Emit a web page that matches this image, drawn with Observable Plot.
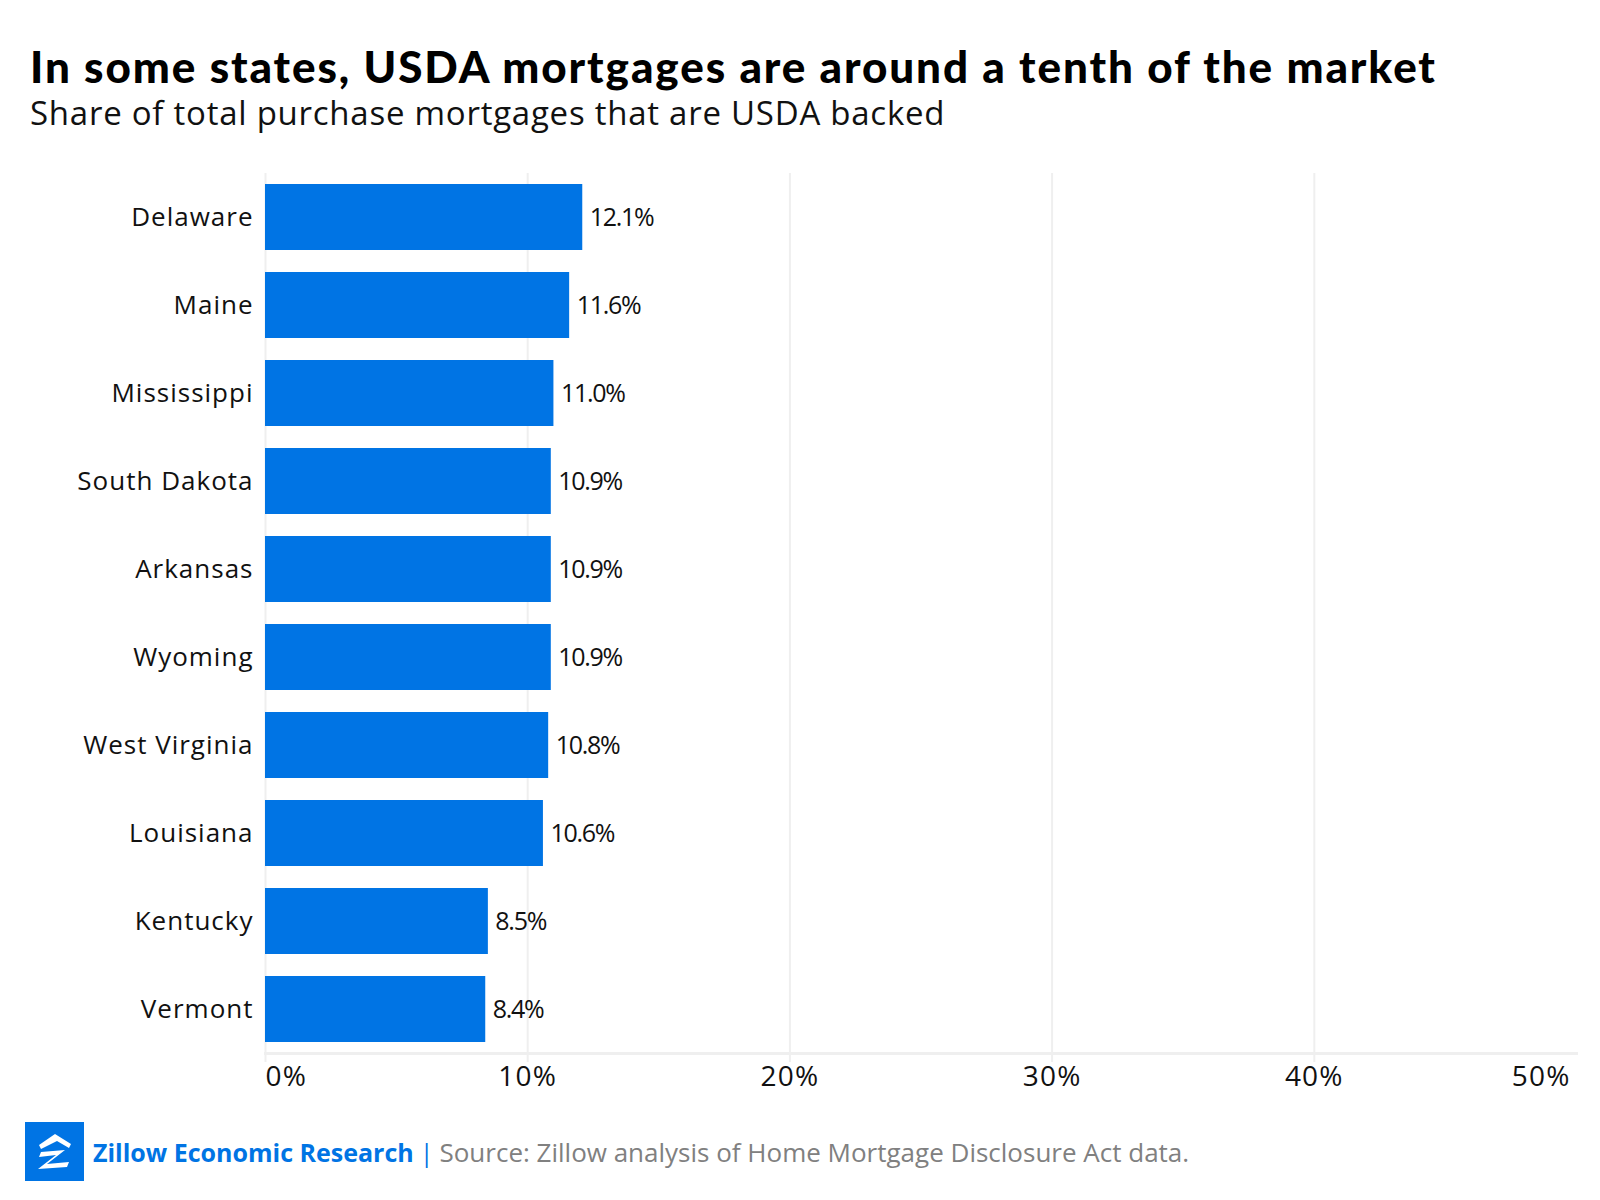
<!DOCTYPE html>
<html>
<head>
<meta charset="utf-8">
<script src="https://cdn.jsdelivr.net/npm/d3@7"></script>
<script src="https://cdn.jsdelivr.net/npm/@observablehq/plot@0.6"></script>
<style>
  html, body { margin: 0; padding: 0; background: #fff; }
  body { width: 1600px; height: 1200px; position: relative; overflow: hidden; font-family: "Open Sans", Lato, sans-serif; }
  #title { position: absolute; left: 30px; top: 40px; font-family: Lato, sans-serif; font-size: 44px; font-weight: 900; color: #000; white-space: nowrap; letter-spacing: 1.9px; }
  #subtitle { position: absolute; left: 30px; top: 90px; font-size: 33px; font-weight: 400; color: #111; white-space: nowrap; letter-spacing: 0.75px; }
  #chart { position: absolute; left: 0; top: 0; }
  #footer { position: absolute; left: 25px; top: 1122px; height: 59px; display: flex; align-items: center; white-space: nowrap; }
  #footer .brand { color: #0074e4; font-weight: 700; font-size: 25px; margin-left: 9px; }
  #footer .sep { color: #0074e4; font-size: 25px; margin: 0 6px; }
  #footer .src { color: #808080; font-size: 26px; }
</style>
</head>
<body>
<div id="chart"></div>
<div id="title">In some states, USDA mortgages are around a tenth of the market</div>
<div id="subtitle">Share of total purchase mortgages that are USDA backed</div>
<div id="footer">
  <svg width="59" height="59" viewBox="0 0 59 59">
    <rect width="59" height="59" fill="#0074e4"/>
    <path d="M30 12 L46 22 L44 26 L32 19 L16 27 L14 23 Z" fill="#fff"/>
    <path d="M16 30 L40 28 L22 42 L44 40 L42 45 L13 47 L31 33 L14 35 Z" fill="#fff"/>
  </svg>
  <span class="brand">Zillow Economic Research</span><span class="sep">|</span><span class="src">Source: Zillow analysis of Home Mortgage Disclosure Act data.</span>
</div>
<script>
const states = ["Delaware", "Maine", "Mississippi", "South Dakota", "Arkansas", "Wyoming", "West Virginia", "Louisiana", "Kentucky", "Vermont"];
const shares = [12.1, 11.6, 11.0, 10.9, 10.9, 10.9, 10.8, 10.6, 8.5, 8.4];
const ticks = [0, 10, 20, 30, 40, 50];
const gridTicks = [0, 10, 20, 30, 40];
const tickLabels = ["0%", "10%", "20%", "30%", "40%", "50%"];

const data = states.map((s, i) => ({state: s, share: shares[i]}));
const tickData = ticks.map((t, i) => ({t, label: tickLabels[i]}));
const fs = 26;
const font = "'Open Sans', Lato, sans-serif";

const chart = Plot.plot({
  width: 1600,
  height: 1100,
  marginLeft: 265,
  marginRight: 24,
  marginTop: 173,
  marginBottom: 47,
  style: {fontFamily: font, fontSize: fs + "px", color: "#111", background: "transparent"},
  x: {domain: [0, 50], axis: null},
  y: {domain: states, paddingInner: 0.25, paddingOuter: 0.125, axis: null},
  marks: [
    Plot.ruleX(gridTicks, {stroke: "#efefef", strokeWidth: 2, insetBottom: -9}),
    Plot.frame({anchor: "bottom", stroke: "#efefef", strokeWidth: 3}),
    Plot.barX(data, {x: "share", y: "state", fill: "#0074e4"}),
    Plot.text(data, {x: "share", y: "state", text: d => d.share.toFixed(1) + "%", textAnchor: "start", dx: 7, fontSize: 25, fill: "#111"}),
    Plot.axisY({tickSize: 0, tickPadding: 12, fontSize: fs, fill: "#111", label: null}),
    Plot.text(tickData.slice(0, 1), {x: "t", text: "label", frameAnchor: "bottom", dy: 32, textAnchor: "start", fontSize: 28, fill: "#111"}),
    Plot.text(tickData.slice(1, 5), {x: "t", text: "label", frameAnchor: "bottom", dy: 32, textAnchor: "middle", fontSize: 28, fill: "#111"}),
    Plot.text(tickData.slice(5), {x: "t", text: "label", frameAnchor: "bottom", dy: 32, textAnchor: "end", dx: -6, fontSize: 28, fill: "#111"})
  ]
});
// letter-spacing tweaks to approximate the original typeface widths
const textGroups = d3.select(chart).selectAll('g[aria-label="text"]').nodes();
d3.select(textGroups[0]).style("letter-spacing", "-1.3px");
textGroups.slice(1).forEach(g => d3.select(g).style("letter-spacing", "1.2px"));
d3.select(chart).selectAll('g[aria-label="y-axis tick label"]').style("letter-spacing", "1px");
document.getElementById("chart").appendChild(chart);
</script>
</body>
</html>
